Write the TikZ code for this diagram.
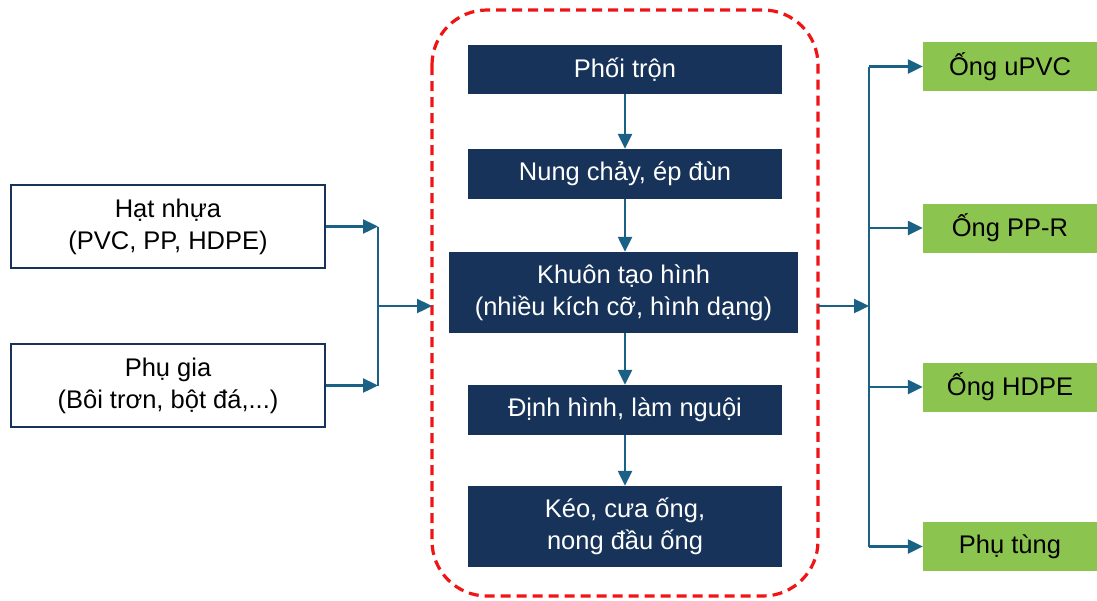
\documentclass[tikz,border=0pt]{standalone}
\usepackage{fontspec}
\setmainfont{Liberation Sans}
\usetikzlibrary{arrows.meta}
\definecolor{navy}{RGB}{23,51,90}
\definecolor{flow}{RGB}{27,97,133}
\definecolor{leaf}{RGB}{140,196,80}
\definecolor{dashred}{RGB}{240,20,20}
\begin{document}
\begin{tikzpicture}[x=1pt,y=-1pt,
    font=\fontsize{25.5}{32}\selectfont,
    inbox/.style={draw=navy,line width=2pt,fill=white,align=center,
        minimum width=314pt,minimum height=83pt,inner sep=0pt},
    stepbox/.style={fill=navy,text=white,align=center,
        minimum width=314pt,minimum height=50pt,inner sep=0pt},
    outbox/.style={fill=leaf,text=black,align=center,
        minimum width=174pt,minimum height=49pt,inner sep=0pt},
    link/.style={draw=flow,line width=2.4pt},
    tip/.style={link,-{Triangle[length=15pt,width=14pt]}}
]
\useasboundingbox (0,0) rectangle (1097,600);

% inputs
\node[inbox] (nhua) at (168,226.5) {Hạt nhựa\\(PVC, PP, HDPE)};
\node[inbox] (phugia) at (168,385.5) {Phụ gia\\(Bôi trơn, bột đá,...)};

% process
\draw[dashred,line width=3.2pt,dash pattern=on 10pt off 6pt,rounded corners=55pt]
    (432,10) rectangle (818,596);
\node[stepbox,minimum height=49pt] (phoitron) at (625,69.5) {Phối trộn};
\node[stepbox] (nungchay) at (625,174) {Nung chảy, ép đùn};
\node[stepbox,minimum width=349pt,minimum height=81pt] (khuon) at (623.5,292.5)
    {Khuôn tạo hình\\(nhiều kích cỡ, hình dạng)};
\node[stepbox] (dinhhinh) at (625,410) {Định hình, làm nguội};
\node[stepbox,minimum height=81pt] (keo) at (625,526.5) {Kéo, cưa ống,\\nong đầu ống};

% outputs
\node[outbox] (upvc) at (1010,66.5) {Ống uPVC};
\node[outbox] (ppr) at (1010,228) {Ống PP-R};
\node[outbox] (hdpe) at (1010,387) {Ống HDPE};
\node[outbox] (phutung) at (1010,546.5) {Phụ tùng};

\coordinate (jin) at (378,306);
\coordinate (boxin) at (432,306);
\coordinate (boxout) at (818,306);
\coordinate (jout) at (869,306);

% connectors
\draw[tip] (nhua.east) -- (nhua.east -| jin);
\draw[tip] (phugia.east) -- (phugia.east -| jin);
\draw[link] (nhua.east -| jin) -- (phugia.east -| jin);
\draw[tip] (jin) -- (boxin);

\draw[tip] (phoitron) -- (nungchay);
\draw[tip] (nungchay) -- (nungchay |- khuon.north);
\draw[tip] (nungchay |- khuon.south) -- (dinhhinh);
\draw[tip] (dinhhinh) -- (keo);

\draw[tip] (boxout) -- (jout);
\draw[link] (upvc.west -| jout) -- (phutung.west -| jout);
\foreach \n in {upvc,ppr,hdpe,phutung}
    \draw[tip] (\n.west -| jout) -- (\n.west);
\end{tikzpicture}
\end{document}
